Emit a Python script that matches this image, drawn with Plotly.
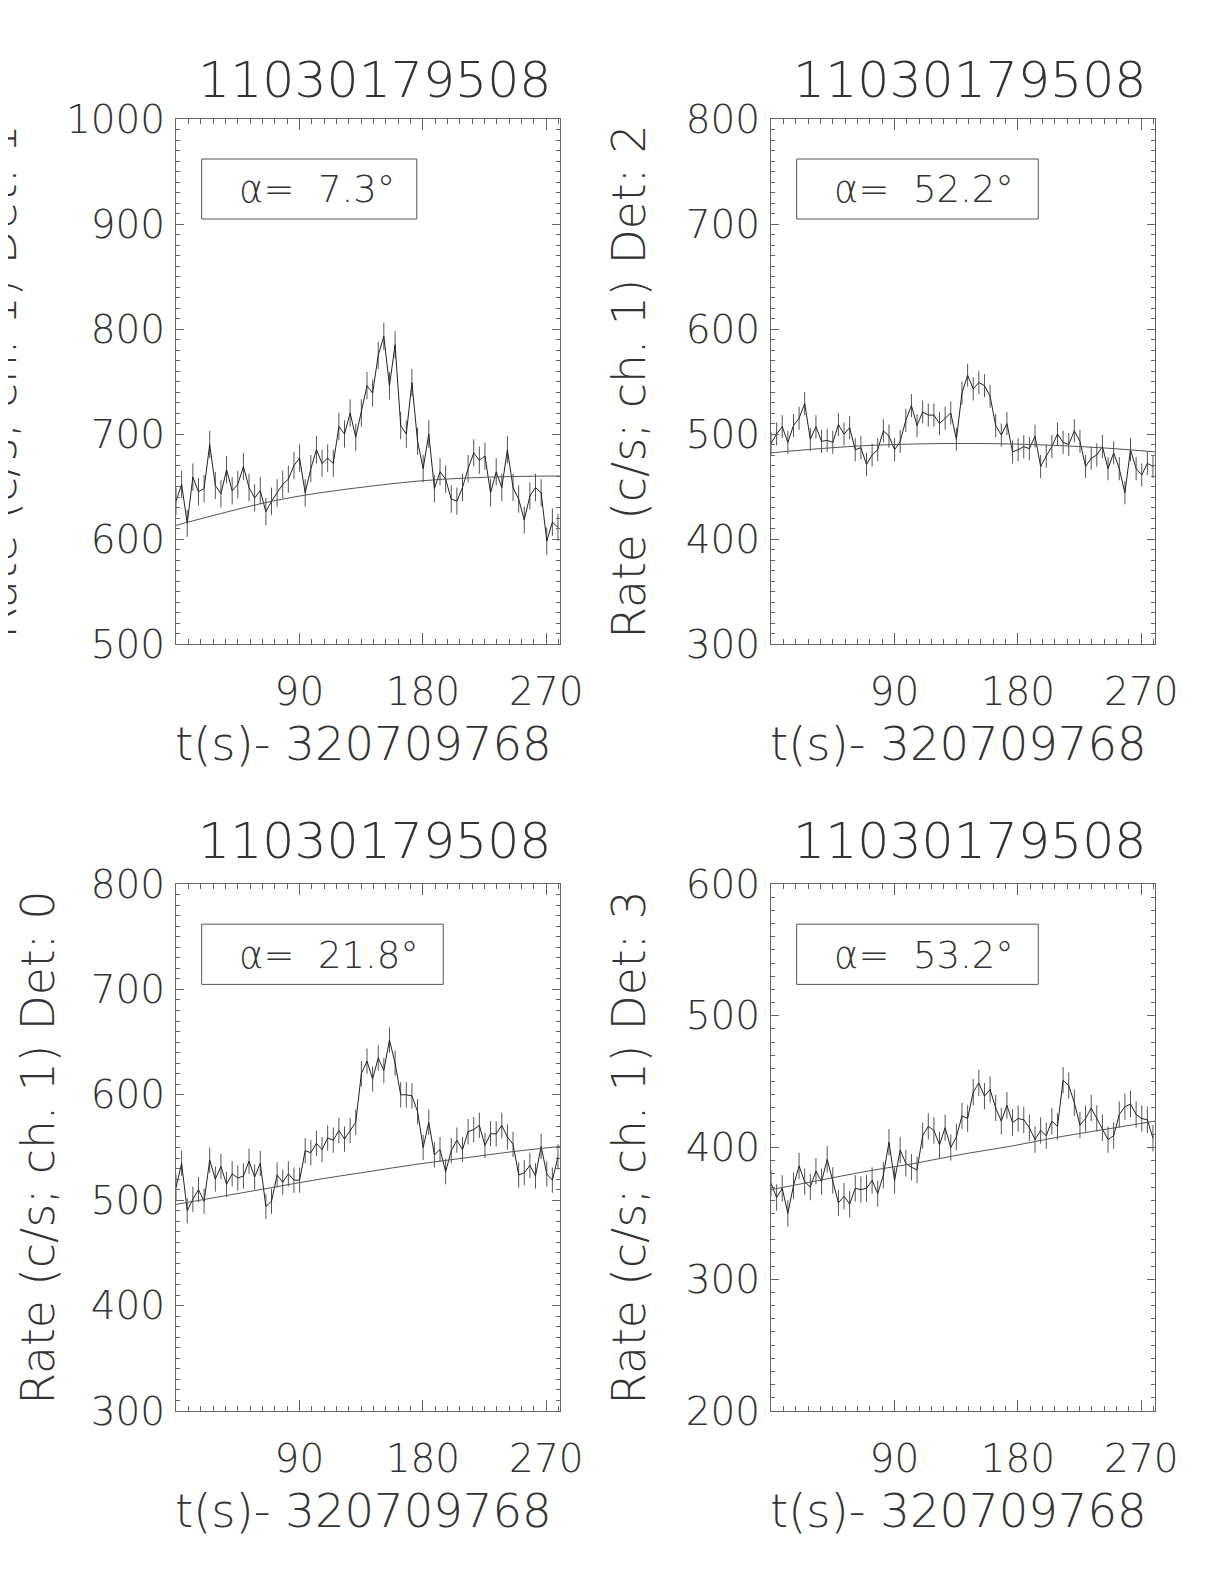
import numpy as np
import plotly.graph_objects as go

# ---------------- data ----------------
title_text = "11030179508"
x_title = "t(s)- 320709768"
y_titles = ["Rate (c/s; ch. 1) Det: 1", "Rate (c/s; ch. 1) Det: 2",
            "Rate (c/s; ch. 1) Det: 0", "Rate (c/s; ch. 1) Det: 3"]
alpha_labels = ["7.3", "52.2", "21.8", "53.2"]

bin_width = 4.096          # s, light-curve bin
n_bins = 69
t = np.arange(n_bins) * bin_width   # bin start times (s - 320709768)

rate_det1 = [636, 652, 615, 659, 645, 648, 690, 651, 643, 666,
             646, 652, 669, 649, 639, 646, 626, 636, 644, 652,
             657, 670, 677, 644, 667, 685, 672, 677, 672, 707,
             700, 720, 697, 720, 746, 739, 775, 793, 746, 785,
             708, 700, 749, 693, 667, 700, 648, 664, 657, 638,
             636, 649, 667, 682, 675, 679, 644, 664, 649, 685,
             649, 638, 618, 641, 649, 644, 598, 616, 611]
rate_det2 = [491, 500, 507, 492, 508, 515, 529, 495, 507, 493,
             494, 492, 509, 500, 506, 485, 487, 471, 480, 485,
             503, 498, 485, 493, 513, 527, 508, 521, 518, 518,
             510, 515, 520, 495, 539, 556, 543, 549, 546, 536,
             508, 499, 510, 483, 485, 488, 486, 498, 469, 479,
             488, 500, 492, 490, 503, 493, 469, 477, 480, 488,
             467, 482, 467, 444, 485, 467, 461, 472, 469]
rate_det0 = [512, 535, 490, 501, 510, 499, 538, 520, 532, 515,
             525, 521, 523, 537, 522, 535, 494, 499, 524, 517,
             525, 519, 519, 547, 545, 554, 548, 559, 557, 566,
             558, 566, 574, 620, 632, 615, 635, 623, 652, 630,
             600, 600, 599, 584, 550, 574, 543, 548, 527, 547,
             557, 548, 565, 567, 571, 552, 563, 563, 571, 560,
             553, 524, 526, 533, 523, 551, 525, 519, 541]
rate_det3 = [373, 362, 369, 350, 371, 386, 374, 370, 382, 374,
             391, 375, 358, 363, 357, 369, 368, 369, 375, 365,
             379, 404, 375, 398, 388, 385, 383, 409, 416, 413,
             402, 415, 400, 408, 424, 422, 442, 449, 439, 444,
             430, 420, 432, 419, 422, 421, 415, 406, 413, 409,
             420, 416, 451, 447, 434, 417, 422, 430, 422, 415,
             406, 409, 425, 431, 433, 425, 422, 421, 407]

# 1-sigma error bar half-lengths (c/s)
err_det1 = 13
err_det2 = 11
err_det0 = 12
err_det3 = 10

# background fit curves (sampled from plot)
fit_t = [0, 35, 70, 105, 140, 175, 210, 245, 280]
fit_det1 = [613, 625, 636, 644, 650, 655, 658, 659.5, 660]
fit_det2 = [482, 486, 489, 490.5, 491, 490.5, 489, 486.5, 483]
fit_det0 = [496, 504, 512, 520, 527, 534, 540, 546, 551]
fit_det3 = [368, 375, 382, 388, 395, 401, 408, 414, 420]

y_ranges = [(500, 1000), (300, 800), (300, 800), (200, 600)]
x_range = (0, 280)
x_tickvals = [0, 90, 180, 270]
x_ticktext = ["", "90", "180", "270"]

rates = [rate_det1, rate_det2, rate_det0, rate_det3]
errs = [err_det1, err_det2, err_det0, err_det3]
fits = [fit_det1, fit_det2, fit_det0, fit_det3]

# ---------------- layout geometry (pixels of 1224x1584 page) ----------------
W, H = 1224, 1584
OFF = 8
col_px = [(176, 560), (771, 1155)]
row_px = [(119, 644), (884, 1411)]
panel_pos = [(0, 0), (0, 1), (1, 0), (1, 1)]   # (row, col)
ytitle_x_px = [0, 629, 38, 629]
box_right = [0.627, 0.696, 0.696, 0.696]


def px_x(p):
    return (p - OFF) / W


def px_y(p):
    return 1 - (p - OFF) / H


FONT = "DejaVu Sans"
WT = 200
TXT = "#333333"
AX = "#666666"

fig = go.Figure()
annotations = []
shapes = []

for i in range(4):
    r, c = panel_pos[i]
    xa = "x" if i == 0 else f"x{i+1}"
    ya = "y" if i == 0 else f"y{i+1}"
    xdom = [px_x(col_px[c][0]), px_x(col_px[c][1])]
    ydom = [px_y(row_px[r][1]), px_y(row_px[r][0])]

    fig.add_trace(go.Scatter(
        x=t, y=rates[i], mode="lines", xaxis=xa, yaxis=ya,
        line=dict(color="#222222", width=1),
        error_y=dict(type="constant", value=errs[i], color="#555555",
                     thickness=1, width=0),
        showlegend=False, hoverinfo="skip"))
    fig.add_trace(go.Scatter(
        x=fit_t, y=fits[i], mode="lines", xaxis=xa, yaxis=ya,
        line=dict(color="#555555", width=1, shape="spline"),
        showlegend=False, hoverinfo="skip"))

    axis_common = dict(showline=True, linecolor=AX, linewidth=1, mirror="allticks",
                       ticks="inside", tickcolor=AX, tickwidth=1,
                       showgrid=False, zeroline=False, automargin=False,
                       tickfont=dict(family=FONT, size=39, color=TXT, weight=WT))
    fig.update_layout(**{
        ("xaxis" if i == 0 else f"xaxis{i+1}"): dict(
            axis_common, domain=xdom, anchor=ya, range=list(x_range),
            tickmode="array", tickvals=x_tickvals, ticktext=x_ticktext,
            ticklen=11, ticklabelstandoff=13,
            minor=dict(ticks="inside", ticklen=5, dtick=9, tick0=0,
                       tickcolor=AX, showgrid=False)),
        ("yaxis" if i == 0 else f"yaxis{i+1}"): dict(
            axis_common, domain=ydom, anchor=xa, range=list(y_ranges[i]),
            tick0=0, dtick=100, ticklen=8, ticklabelstandoff=2,
            minor=dict(ticks="inside", ticklen=4, dtick=10, tick0=0,
                       tickcolor=AX, showgrid=False)),
    })

    xc = px_x((col_px[c][0] + col_px[c][1]) / 2)
    # panel title
    title_y = [80, 841][r]
    annotations.append(dict(text=title_text, xref="paper", yref="paper",
                            x=xc + 6 / W, y=px_y(title_y), showarrow=False,
                            xanchor="center", yanchor="middle",
                            font=dict(family=FONT, size=50.5, color=TXT, weight=WT)))
    # x title
    xt_y = [744, 1511][r]
    annotations.append(dict(text=x_title, xref="paper", yref="paper",
                            x=xc - 5 / W, y=px_y(xt_y), showarrow=False,
                            xanchor="center", yanchor="middle",
                            font=dict(family=FONT, size=46.5, color=TXT, weight=WT)))
    # y title
    yc = px_y((row_px[r][0] + row_px[r][1]) / 2)
    annotations.append(dict(text=y_titles[i], xref="paper", yref="paper",
                            x=px_x(ytitle_x_px[i]), y=yc, showarrow=False,
                            textangle=-90, xanchor="center", yanchor="middle",
                            font=dict(family=FONT, size=45.5, color=TXT, weight=WT)))
    # alpha label box
    shapes.append(dict(type="rect", xref=f"{xa} domain", yref=f"{ya} domain",
                       x0=0.0668, x1=box_right[i], y0=0.8095, y1=0.9238,
                       line=dict(color="#555555", width=1)))
    annotations.append(dict(text="α=  " + alpha_labels[i] + "°",
                            xref=f"{xa} domain", yref=f"{ya} domain",
                            x=0.158, y=0.865, showarrow=False,
                            xanchor="left", yanchor="middle",
                            font=dict(family=FONT, size=37, color=TXT, weight=WT)))

fig.update_layout(width=W, height=H, margin=dict(l=0, r=0, t=0, b=0, autoexpand=False),
                  paper_bgcolor="white", plot_bgcolor="white",
                  annotations=annotations, shapes=shapes, showlegend=False)

fig.write_html("out.html")
